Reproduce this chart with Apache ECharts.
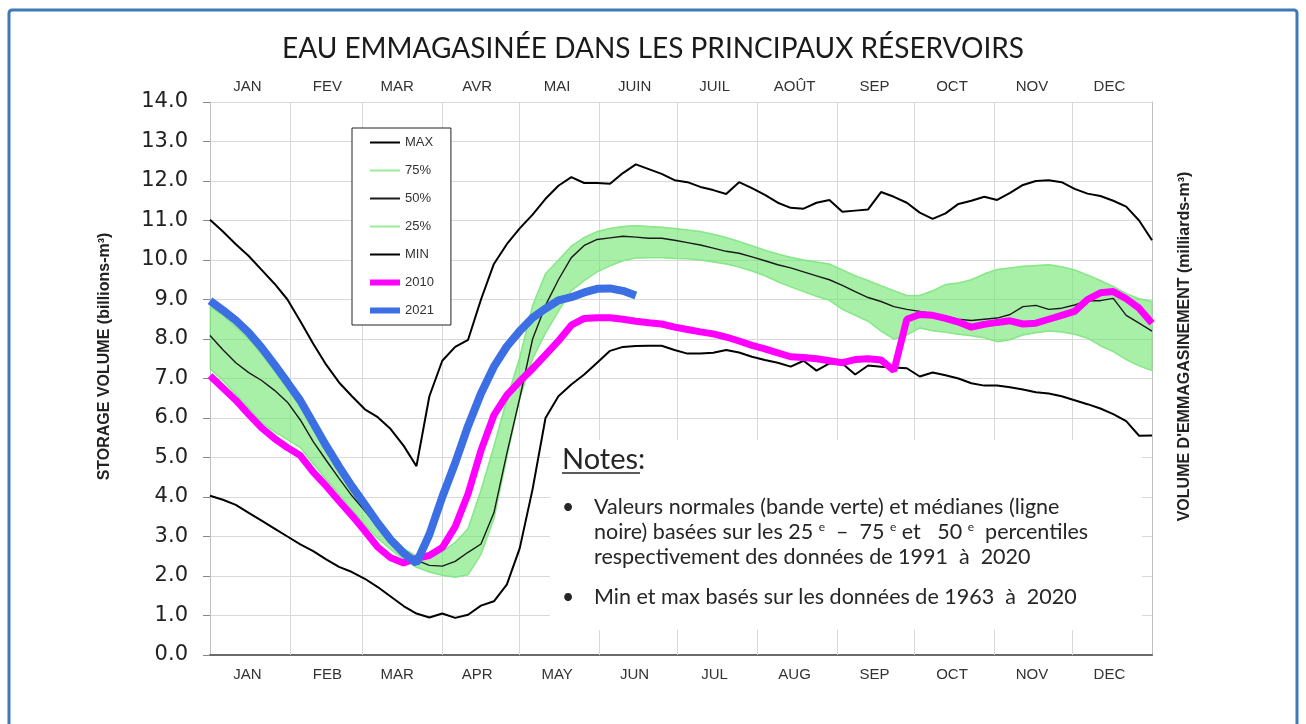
<!DOCTYPE html>
<html lang="fr">
<head>
<meta charset="UTF-8">
<title>Eau emmagasinée</title>
<script src="https://cdn.jsdelivr.net/npm/echarts@6/dist/echarts.min.js"></script>
<style>
  html, body { margin: 0; padding: 0; background: #fff; }
  #chart { width: 1306px; height: 724px; }
</style>
</head>
<body>
<div id="chart"></div>
<script>
// mois (axe du haut en français, axe du bas en anglais)
var monthsFr = ['JAN', 'FEV', 'MAR', 'AVR', 'MAI', 'JUIN', 'JUIL', 'AOÛT', 'SEP', 'OCT', 'NOV', 'DEC'];
var monthsEn = ['JAN', 'FEB', 'MAR', 'APR', 'MAY', 'JUN', 'JUL', 'AUG', 'SEP', 'OCT', 'NOV', 'DEC'];
var monthStart = [0, 31, 59, 90, 120, 151, 181, 212, 243, 273, 304, 334, 365];
var monthMid = [14, 45, 72, 103, 134, 164, 195, 226, 257, 287, 318, 348];

// jour de l'année (pas de 5 jours)
var days = [0, 5, 10, 15, 20, 25, 30, 35, 40, 45, 50, 55, 60, 65, 70, 75, 80, 85, 90, 95,
  100, 105, 110, 115, 120, 125, 130, 135, 140, 145, 150, 155, 160, 165, 170, 175, 180, 185, 190, 195,
  200, 205, 210, 215, 220, 225, 230, 235, 240, 245, 250, 255, 260, 265, 270, 275, 280, 285, 290, 295,
  300, 305, 310, 315, 320, 325, 330, 335, 340, 345, 350, 355, 360, 365];

var maxVals = [11.02, 10.72, 10.4, 10.1, 9.75, 9.4, 9.0, 8.45, 7.88, 7.35,
  6.9, 6.55, 6.22, 6.02, 5.72, 5.3, 4.78, 6.55, 7.45, 7.8,
  7.98, 9.0, 9.9, 10.4, 10.8, 11.15, 11.55, 11.88, 12.1, 11.95,
  11.95, 11.93, 12.2, 12.42, 12.3, 12.18, 12.02, 11.97, 11.85, 11.77,
  11.67, 11.97, 11.82, 11.65, 11.45, 11.32, 11.3, 11.45, 11.52, 11.22,
  11.25, 11.28, 11.72, 11.6, 11.45, 11.2, 11.04, 11.18, 11.42, 11.5,
  11.6, 11.52, 11.7, 11.9, 12.0, 12.02, 11.97, 11.8, 11.68, 11.62,
  11.5, 11.35, 11.0, 10.5];

var pct75 = [8.82, 8.6, 8.3, 8.0, 7.62, 7.18, 6.75, 6.3, 5.8, 5.25,
  4.72, 4.2, 3.72, 3.3, 2.95, 2.7, 2.5, 2.5, 2.62, 2.85,
  3.2, 4.17, 5.28, 6.47, 7.53, 8.85, 9.65, 10.0, 10.35, 10.57,
  10.72, 10.8, 10.85, 10.87, 10.85, 10.83, 10.8, 10.76, 10.72, 10.65,
  10.57, 10.47, 10.36, 10.25, 10.15, 10.07, 10.0, 9.95, 9.9, 9.75,
  9.6, 9.48, 9.35, 9.22, 9.1, 9.1, 9.22, 9.38, 9.42, 9.5,
  9.65, 9.76, 9.8, 9.84, 9.86, 9.88, 9.83, 9.75, 9.62, 9.48,
  9.33, 9.15, 9.02, 8.95];

var pct50 = [8.09, 7.73, 7.4, 7.15, 6.95, 6.7, 6.4, 5.95, 5.4, 4.93,
  4.47, 4.03, 3.65, 3.24, 2.87, 2.6, 2.4, 2.27, 2.25, 2.37,
  2.6, 2.81, 3.6, 5.1, 6.5, 8.0, 8.85, 9.5, 10.06, 10.37,
  10.52, 10.56, 10.6, 10.58, 10.55, 10.55, 10.5, 10.44, 10.38, 10.3,
  10.22, 10.17, 10.08, 9.98, 9.88, 9.8, 9.7, 9.6, 9.5, 9.36,
  9.2, 9.05, 8.95, 8.82, 8.75, 8.7, 8.64, 8.58, 8.5, 8.47,
  8.5, 8.53, 8.62, 8.82, 8.85, 8.75, 8.78, 8.86, 8.97, 8.97,
  9.03, 8.6, 8.4, 8.2];

var pct25 = [7.25, 6.95, 6.6, 6.25, 5.88, 5.65, 5.45, 5.25, 4.85, 4.45,
  4.07, 3.68, 3.3, 2.95, 2.67, 2.43, 2.22, 2.1, 2.02, 1.97,
  2.03, 2.55, 3.45, 5.0, 6.5, 7.5, 8.15, 8.7, 9.22, 9.48,
  9.7, 9.85, 9.98, 10.05, 10.06, 10.06, 10.04, 10.03, 10.0, 9.95,
  9.9, 9.82, 9.72, 9.6, 9.45, 9.32, 9.2, 9.08, 8.98, 8.75,
  8.6, 8.45, 8.2, 8.0, 8.1, 8.28, 8.21, 8.17, 8.12, 8.08,
  8.03, 7.93, 7.98, 8.1, 8.16, 8.2, 8.18, 8.12, 8.02, 7.83,
  7.68, 7.48, 7.32, 7.2];

var minVals = [4.03, 3.93, 3.8, 3.6, 3.4, 3.2, 3.0, 2.8, 2.63, 2.42,
  2.23, 2.1, 1.93, 1.72, 1.48, 1.24, 1.05, 0.95, 1.05, 0.94,
  1.02, 1.25, 1.36, 1.78, 2.7, 4.2, 6.0, 6.55, 6.85, 7.1,
  7.4, 7.7, 7.8, 7.82, 7.83, 7.83, 7.72, 7.63, 7.63, 7.65,
  7.72, 7.66, 7.55, 7.47, 7.4, 7.3, 7.45, 7.2, 7.38, 7.38,
  7.1, 7.33, 7.3, 7.28, 7.26, 7.05, 7.15, 7.08, 7.0, 6.88,
  6.82, 6.82, 6.78, 6.72, 6.65, 6.62, 6.55, 6.45, 6.35, 6.24,
  6.1, 5.92, 5.55, 5.56];

var y2010 = [7.07, 6.76, 6.45, 6.09, 5.75, 5.48, 5.25, 5.05, 4.63, 4.28,
  3.9, 3.53, 3.14, 2.73, 2.46, 2.33, 2.45, 2.52, 2.72, 3.25,
  4.08, 5.18, 6.07, 6.58, 6.93, 7.25, 7.6, 7.95, 8.35, 8.52,
  8.54, 8.54, 8.5, 8.45, 8.41, 8.38, 8.3, 8.24, 8.18, 8.13,
  8.05, 7.95, 7.84, 7.75, 7.65, 7.55, 7.53, 7.5, 7.45, 7.4,
  7.48, 7.5, 7.47, 7.2, 8.5, 8.62, 8.6, 8.52, 8.43, 8.3,
  8.37, 8.42, 8.46, 8.38, 8.4, 8.5, 8.6, 8.7, 9.0, 9.17,
  9.2, 9.02, 8.78, 8.4];

// 2021 : données jusqu'à mi-juin
var y2021 = [8.97, 8.73, 8.47, 8.16, 7.78, 7.35, 6.9, 6.44, 5.87, 5.3,
  4.77, 4.27, 3.81, 3.34, 2.92, 2.58, 2.33, 3.05, 4.0, 4.86,
  5.8, 6.62, 7.3, 7.81, 8.2, 8.54, 8.77, 8.98, 9.06, 9.18,
  9.27, 9.28, 9.22, 9.1];

function pairs(vals) {
  var res = [];
  for (var i = 0; i < vals.length; i++) {
    res.push([days[i], vals[i]]);
  }
  return res;
}

// cases d'un jour pour placer les noms de mois au milieu du mois
var daySlots = [];
for (var i = 0; i < 365; i++) daySlots.push(i);

function monthLabel(names) {
  return {
    interval: function (index) { return monthMid.indexOf(index) > -1; },
    formatter: function (value, index) { return names[monthMid.indexOf(Number(value))]; },
    fontFamily: 'Liberation Sans',
    fontSize: 15,
    color: '#333'
  };
}

var topLabel = monthLabel(monthsFr);
topLabel.margin = 8;
var bottomLabel = monthLabel(monthsEn);
bottomLabel.margin = 12;

function lineSeries(name, data, color, width) {
  return {
    name: name,
    type: 'line',
    data: data,
    symbol: 'none',
    smooth: false,
    lineStyle: { color: color, width: width },
    itemStyle: { color: color }
  };
}

var nameFont = { fontFamily: 'Liberation Sans', fontWeight: 'bold', fontSize: 16, color: '#222' };

var chart = echarts.init(document.getElementById('chart'));

var option = {
  animation: false,
  backgroundColor: '#fff',
  title: {
    text: 'EAU EMMAGASINÉE DANS LES PRINCIPAUX RÉSERVOIRS',
    left: 'center',
    top: 35,
    padding: 0,
    textStyle: { fontFamily: 'Lato', fontSize: 28, fontWeight: 'normal', color: '#1a1a1a' }
  },
  legend: {
    orient: 'vertical',
    left: 352,
    top: 128,
    padding: [8, 17, 8, 15],
    itemWidth: 30,
    itemHeight: 14,
    itemGap: 15,
    borderColor: '#222',
    borderWidth: 1,
    backgroundColor: '#fff',
    itemStyle: { opacity: 0 },
    textStyle: { fontFamily: 'Liberation Sans', fontSize: 13, color: '#333' },
    data: [
      { name: 'MAX' },
      { name: '75%' },
      { name: '50%' },
      { name: '25%' },
      { name: 'MIN' },
      { name: '2010', lineStyle: { width: 6 } },
      { name: '2021', lineStyle: { width: 6 } }
    ]
  },
  grid: { left: 210, right: 154, top: 102, bottom: 69, containLabel: false, outerBoundsMode: 'none' },
  xAxis: [
    {
      type: 'value', min: 0, max: 365, position: 'bottom',
      axisLine: { show: true, onZero: false, lineStyle: { color: '#7f7f7f', width: 2 } },
      axisTick: { show: false }, axisLabel: { show: false }, splitLine: { show: false }
    },
    {
      type: 'category', data: daySlots, position: 'bottom', boundaryGap: true,
      axisLine: { show: false }, axisTick: { show: false }, splitLine: { show: false },
      axisLabel: bottomLabel
    },
    {
      type: 'category', data: daySlots, position: 'top', boundaryGap: true,
      axisLine: { show: true, lineStyle: { color: '#666', width: 1.5 } },
      axisTick: { show: false }, splitLine: { show: false },
      axisLabel: topLabel
    }
  ],
  yAxis: [
    {
      type: 'value', min: 0, max: 14, interval: 1, position: 'left',
      name: 'STORAGE VOLUME (billions-m³)',
      nameLocation: 'middle', nameRotate: 90, nameGap: 97,
      nameTextStyle: Object.assign({ padding: [0, 0, 0, 44] }, nameFont),
      axisLine: { show: true, onZero: false, lineStyle: { color: '#bfbfbf' } },
      axisTick: { show: true, length: 7, lineStyle: { color: '#888' } },
      axisLabel: {
        margin: 22, fontFamily: 'DejaVu Sans', fontSize: 21, color: '#222',
        formatter: function (v) { return v.toFixed(1); }
      },
      splitLine: { show: true, lineStyle: { color: '#d9d9d9', width: 1 } }
    },
    {
      type: 'value', min: 0, max: 14, interval: 1, position: 'right',
      name: "VOLUME D'EMMAGASINEMENT (milliards-m³)",
      nameLocation: 'middle', nameRotate: 90, nameGap: 25,
      nameTextStyle: Object.assign({ padding: [0, 0, 0, 64] }, nameFont),
      axisLine: { show: true, onZero: false, lineStyle: { color: '#bfbfbf' } },
      axisTick: { show: false }, axisLabel: { show: false }, splitLine: { show: false }
    }
  ],
  series: [
    {
      // lignes verticales des débuts de mois
      name: 'grille', type: 'line', data: [], z: 0, silent: true,
      markLine: {
        silent: true, z: 1, symbol: ['none', 'none'], label: { show: false },
        lineStyle: { color: '#d9d9d9', type: 'solid', width: 1 },
        data: monthStart.slice(1, -1).map(function (d) { return { xAxis: d }; })
      }
    },
    {
      // bande verte 25e - 75e percentile
      name: 'bande', type: 'custom', silent: true, z: 2,
      data: [[0, 0]],
      renderItem: function (params, api) {
        var pts = [];
        for (var i = 0; i < days.length; i++) pts.push(api.coord([days[i], pct75[i]]));
        for (var j = days.length - 1; j >= 0; j--) pts.push(api.coord([days[j], pct25[j]]));
        return {
          type: 'polygon',
          shape: { points: pts },
          style: { fill: 'rgba(110,228,110,0.6)', stroke: 'rgba(110,228,110,0.6)', lineWidth: 1 }
        };
      }
    },
    lineSeries('75%', pairs(pct75), 'rgba(130,230,130,0.8)', 1.5),
    lineSeries('25%', pairs(pct25), 'rgba(130,230,130,0.8)', 1.5),
    lineSeries('MAX', pairs(maxVals), '#000', 2),
    lineSeries('MIN', pairs(minVals), '#000', 2),
    lineSeries('50%', pairs(pct50), '#1a1a1a', 1.4),
    lineSeries('2010', pairs(y2010), '#ff00ff', 7),
    lineSeries('2021', pairs(y2021), '#3b6fe3', 8)
  ],
  graphic: [
    {
      type: 'rect', z: 10, silent: true,
      shape: { x: 9, y: 10, width: 1288, height: 740, r: 3 },
      style: { fill: 'none', stroke: '#3f7ab6', lineWidth: 3 }
    },
    {
      type: 'rect', z: 1.5, silent: true,
      shape: { x: 550, y: 440, width: 592, height: 190 },
      style: { fill: '#fff' }
    },
    {
      type: 'text', z: 3, x: 562, y: 460,
      style: { text: 'Notes:', fontFamily: 'Lato', fontSize: 29, fill: '#262626', verticalAlign: 'middle' }
    },
    {
      type: 'line', z: 3,
      shape: { x1: 562, y1: 473, x2: 640, y2: 473 },
      style: { stroke: '#262626', lineWidth: 1.5 }
    },
    {
      type: 'text', z: 3, x: 562, y: 507,
      style: { text: '•', fontFamily: 'Lato', fontSize: 21, fill: '#262626', verticalAlign: 'middle' }
    },
    {
      type: 'text', z: 3, x: 594, y: 507,
      style: { text: 'Valeurs normales (bande verte) et médianes (ligne', fontFamily: 'Lato', fontSize: 21.5, fill: '#262626', verticalAlign: 'middle' }
    },
    {
      type: 'text', z: 3, x: 594, y: 532,
      style: {
        text: 'noire) basées sur les 25 {s|e}  –  75 {s|e} et   50 {s|e}  percentiles',
        fontFamily: 'Lato', fontSize: 21.5, fill: '#262626', verticalAlign: 'middle',
        rich: { s: { fontFamily: 'Lato', fontSize: 12, fill: '#262626', verticalAlign: 'top' } }
      }
    },
    {
      type: 'text', z: 3, x: 594, y: 557,
      style: { text: 'respectivement des données de 1991  à  2020', fontFamily: 'Lato', fontSize: 21.5, fill: '#262626', verticalAlign: 'middle' }
    },
    {
      type: 'text', z: 3, x: 562, y: 597,
      style: { text: '•', fontFamily: 'Lato', fontSize: 21, fill: '#262626', verticalAlign: 'middle' }
    },
    {
      type: 'text', z: 3, x: 594, y: 597,
      style: { text: 'Min et max basés sur les données de 1963  à  2020', fontFamily: 'Lato', fontSize: 21.5, fill: '#262626', verticalAlign: 'middle' }
    }
  ]
};

chart.setOption(option);
</script>
</body>
</html>
